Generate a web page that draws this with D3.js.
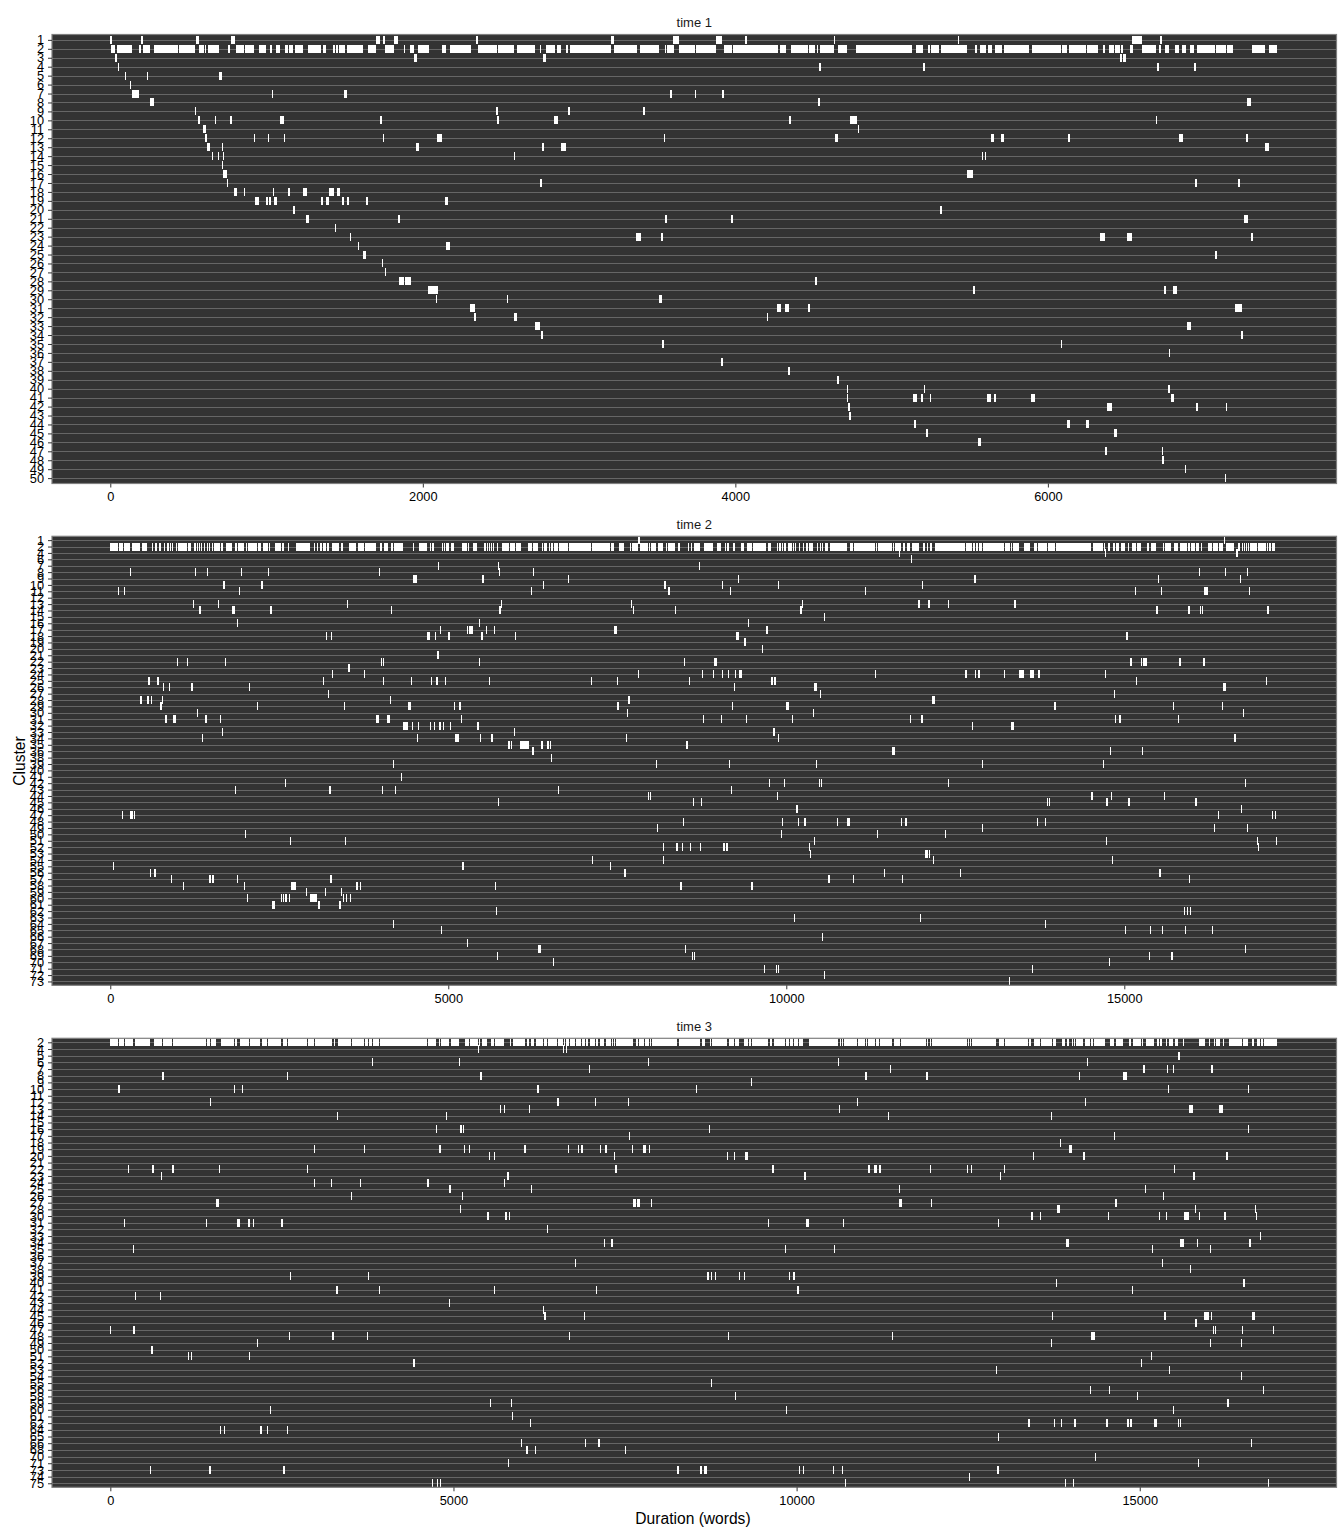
<!DOCTYPE html>
<html>
<head>
<meta charset="utf-8">
<script src="https://cdnjs.cloudflare.com/ajax/libs/d3/7.8.5/d3.min.js"></script>
<style>
  body { margin: 0; background: #fff; }
  text { font-family: "Liberation Sans", Arial, sans-serif; }
</style>
</head>
<body>
<script>
// every chunk is a number (shortest chunk) or [start, length], in words
const time1Clusters = [1,2,3,4,5,6,7,8,9,10,11,12,13,14,15,16,17,18,19,20,21,22,23,24,25,26,27,28,29,30,31,32,33,34,35,36,37,38,39,40,41,42,43,44,45,46,47,48,49,50];
const time2Clusters = [1,2,4,6,7,8,9,10,11,12,13,14,15,16,17,18,19,20,21,22,23,24,25,26,27,28,29,30,31,32,33,34,35,36,38,39,40,41,42,43,44,45,46,47,48,49,50,51,52,53,54,55,56,57,58,59,60,61,62,63,64,65,66,67,68,69,70,71,72,73];
const time3Clusters = [2,4,5,6,7,8,9,10,11,12,13,14,15,16,17,18,19,20,21,22,23,24,25,26,27,28,30,31,32,33,34,35,36,37,38,39,40,41,42,43,44,45,46,47,48,49,50,51,52,53,54,55,56,58,59,60,61,62,64,65,66,68,70,71,73,74,75];

// cluster 2 runs almost the whole text: flat start,end pairs
const time1Cluster2 = [4,30,43,139,184,197,209,254,280,434,440,543,568,600,607,613,626,696,754,767,805,857,863,921,953,998,1023,1036,1062,1087,1119,1138,1145,1171,1183,1235,1267,1350,1363,1382,1427,1440,1446,1459,1465,1504,1517,1619,1651,1702,1760,1818,1882,1888,1920,1946,1972,2042,2125,2151,2174,2308,2353,2475,2481,2584,2603,2718,2750,2756,2788,2846,2859,2884,2916,2929,2942,3204,3223,3371,3390,3511,3550,3556,3563,3607,3639,3742,3748,3876,3927,3978,3985,4273,4286,4324,4356,4465,4471,4510,4522,4529,4542,4631,4657,4714,4772,5131,5156,5201,5233,5246,5252,5304,5316,5483,5534,5547,5566,5604,5617,5643,5662,5707,5720,5880,5899,6084,6091,6123,6135,6244,6251,6321,6353,6366,6391,6423,6430,6462,6468,6481,6526,6545,6603,6692,6711,6724,6750,6775,6814,6839,6858,6884,6910,6935,6955,7070,7076,7140,7146,7185,7306,7390,7415,7466];
const time2Cluster2 = [0,118,133,192,207,296,320,438,468,542,616,635,660,690,719,749,793,808,837,867,882,897,911,926,970,985,1000,1133,1148,1192,1236,1266,1281,1296,1310,1325,1340,1355,1384,1399,1429,1443,1458,1473,1502,1517,1532,1621,1635,1665,1709,1798,1842,1872,1887,1975,2005,2020,2034,2167,2182,2227,2256,2330,2345,2360,2433,2522,2537,2566,2626,2640,2744,2951,3010,3025,3054,3069,3098,3128,3143,3187,3202,3231,3276,3379,3409,3438,3527,3630,3660,3749,3763,3926,3985,4015,4044,4103,4148,4177,4192,4325,4473,4488,4562,4680,4724,4739,4754,4783,4901,4916,4931,4946,4960,5005,5034,5079,5197,5271,5286,5300,5359,5419,5532,5561,5576,5591,5606,5621,5635,5650,5665,5680,5724,5739,5798,5901,5916,5990,6005,6079,6182,6241,6256,6330,6389,6404,6419,6463,6492,6507,6522,6552,6566,6625,6640,6773,6788,7113,7128,7394,7409,7453,7527,7601,7689,7704,7719,7808,7837,7955,7970,7985,8000,8074,8103,8177,8221,8236,8251,8355,8399,8428,8547,8561,8591,8606,8635,8724,8783,8916,8975,9034,9093,9108,9123,9153,9212,9241,9330,9374,9419,9493,9507,9699,9729,9773,9862,9877,9891,9921,9936,9951,9965,9995,10025,10084,10098,10113,10128,10143,10187,10202,10251,10261,10291,10320,10335,10394,10453,10468,10497,10512,10527,10542,10571,10616,10645,10896,10941,10985,11000,11310,11325,11340,11355,11561,11576,11591,11606,11694,11724,11753,11783,11827,11862,11966,12025,12054,12084,12099,12128,12158,12202,12646,12660,12749,12764,12793,12808,12838,12852,12897,12912,13222,13237,13311,13325,13340,13355,13444,13517,13606,13665,13710,13724,13857,13872,13976,13990,14508,14537,14685,14700,14715,14759,14788,14833,14862,14877,14921,14951,15010,15054,15069,15113,15172,15187,15246,15335,15365,15394,15468,15572,15587,15601,15690,15734,15793,15823,15926,15941,15971,15986,16045,16059,16104,16133,16148,16237,16296,16311,16385,16399,16458,16503,16621,16680,16709,16739,16754,16769,16784,16798,16813,16828,16843,16857,16961,16976,17094,17109,17123,17138,17168,17182,17227];
const time3Cluster2 = [0,117,131,204,219,335,364,578,636,753,767,899,913,1394,1409,1452,1467,1540,1613,1802,1816,1846,1889,2020,2035,2181,2210,2283,2297,2487,2516,2574,2589,2866,2880,2968,2982,3230,3259,3274,3317,3507,3521,3696,3711,3754,3769,3813,3827,3915,3929,4614,4629,4745,4789,4803,4818,4935,4964,5080,5168,5226,5241,5357,5372,5387,5418,5491,5549,5593,5607,5738,5826,5840,5870,6044,6074,6103,6132,6175,6205,6307,6321,6365,6380,6511,6525,6598,6613,6627,6642,6686,6700,6773,6788,6860,6875,6919,6933,6962,6992,7064,7079,7108,7137,7195,7225,7298,7312,7327,7341,7356,7370,7618,7662,7691,7705,7778,7793,7851,7866,7880,7895,8259,8288,8594,8623,8667,8740,8755,8769,8988,9017,9090,9104,9163,9235,9294,9308,9337,9352,9585,9614,9643,9673,9833,9847,9891,9906,9949,9964,10022,10037,10095,10183,10605,10634,10649,10663,10678,10692,10882,10896,10999,11013,11027,11042,11144,11159,11203,11217,11392,11421,11509,11523,11889,11903,11918,11947,11962,11976,12486,12501,12515,12530,12545,12559,12909,12953,13025,13040,13375,13390,13419,13463,13550,13564,13725,13739,13783,13871,13914,13943,13972,14016,14031,14045,14060,14074,14176,14206,14278,14293,14322,14337,14497,14570,14628,14657,14759,14847,14876,14905,15022,15036,15051,15094,15211,15255,15284,15298,15328,15386,15400,15430,15488,15517,15561,15634,15648,15867,15954,16012,16027,16085,16100,16114,16173,16216,16231,16304,16493,16508,16581,16639,16668,16712,16756,16770,16799,16814,17003];

const time1Chunks = [
  [1, [0,12],[197,13],[549,19],[773,25],[1702,25],[1747,13],[1818,25],[2340,13],[3204,19],[3601,38],[3876,38],[4062,13],4631,5425,[6539,64],[6718,13]],
  [3, [30,13],[1946,19],[2769,19],[6462,13],[6481,19]],
  [4, 49,[4535,13],[5201,13],[6699,13],[6935,13]],
  [5, 94,235,[696,19]],
  [6, 126],
  [7, [139,45],1036,[1497,19],[3582,13],3742,[3915,13]],
  [8, [254,26],[4529,13],[7274,26]],
  [9, 543,[2468,13],[2929,13],[3409,13]],
  [10, [562,13],671,[767,13],[1087,26],[1728,13],[2475,13],[2840,26],[4343,13],[4734,45],6692],
  [11, [594,19],4785],
  [12, [607,13],921,1010,1113,1747,[2093,32],3546,[4638,19],[5636,19],[5700,19],[6129,13],[6839,26],[7268,13]],
  [13, [619,19],716,[1959,19],[2763,13],[2884,32],[7390,26]],
  [14, 651,690,722,2584,5579,5598],
  [15, 716],
  [16, [722,26],[5482,38]],
  [17, 748,[2750,13],[6942,13],[7217,13]],
  [18, [793,19],857,1042,[1138,13],[1235,26],[1401,32],[1453,19]],
  [19, [927,26],[998,13],[1017,13],[1049,19],[1350,13],[1382,19],[1485,13],[1517,13],[1638,13],[2145,13]],
  [20, [1171,13],[5310,13]],
  [21, [1254,19],[1843,13],[3550,13],[3972,13],[7256,26]],
  [22, 1440],
  [23, 1536,[3364,32],[3524,13],[6334,32],[6507,32],[7301,13]],
  [24, 1587,[2148,26]],
  [25, [1619,19],[7070,13]],
  [26, 1741],
  [27, 1760],
  [28, [1850,32],[1888,38],[4510,13]],
  [29, [2036,58],[5520,13],[6742,13],[6800,26]],
  [30, 2087,2539,[3511,19]],
  [31, [2302,32],[4266,26],[4318,26],[4465,13],[7197,45]],
  [32, [2328,13],[2584,19],4202],
  [33, [2718,32],[6890,26]],
  [34, [2756,13],[7236,13]],
  [35, [3531,13],6086],
  [36, 6776],
  [37, [3908,13]],
  [38, [4337,13]],
  [39, [4650,13]],
  [40, 4714,5208,[6770,13]],
  [41, 4714,[5138,26],[5189,13],5247,[5611,26],[5656,13],[5893,26],[6790,19]],
  [42, [4721,13],[6379,32],[6949,13],7140],
  [43, [4727,13]],
  [44, [5143,13],[6123,19],[6245,19]],
  [45, [5220,13],[6425,19]],
  [46, [5553,19]],
  [47, [6366,13],6731],
  [48, [6731,13]],
  [49, 6878],
  [50, 7134]
];

const time2Chunks = [
  [1, [7808,30],16473],
  [4, 11665,14715,[16650,30]],
  [6, 11848],
  [7, 4842,5739,8709],
  [8, 291,1251,1429,1931,2330,3970,5754,6256,16104,16488,16813],
  [9, [4473,59],[5502,30],6773,9286,[12779,30],15498,16709],
  [10, [1665,30],[2227,30],6404,[8192,30],9049,9877,12010],
  [11, 113,202,1901,6226,[8251,30],9167,11158,15158,15542,[16177,59],16843],
  [13, 1222,1591,3498,5783,7704,10231,[11951,30],[12099,30],12394,[13370,30]],
  [14, [1310,30],[1798,44],[2360,30],4148,[5754,30],7734,8355,[10202,30],[15468,30],[15941,30],16118,16148,[17109,30]],
  [15, 10557],
  [16, 1872,5458,9433],
  [17, 4872,5271,[5300,59],5561,5680,[7453,44],[9699,30]],
  [18, 3187,3261,[4680,44],4798,[4990,30],[5488,30],5990,[9256,44],[15025,30]],
  [19, [9374,30]],
  [20, 9640],
  [21, [4827,30]],
  [22, 985,1133,1695,4000,4029,5458,8487,[8931,44],[15084,30],15246,[15276,59],[15808,30],[16163,30]],
  [23, [3512,30]],
  [24, 3276,3749,7808,8753,8916,9049,9138,9241,[9300,44],11310,[12646,30],12793,[12838,30],13222,[13444,74],[13606,59],[13724,30],14715],
  [25, [557,30],[690,30],3143,4029,4443,4739,[4813,30],4946,5606,7113,7498,8561,[9773,30],[9818,30],15172,17094],
  [26, 778,867,[1192,30],2049,9227,[10409,44],[16458,44]],
  [27, 3217,10497,14847],
  [28, [438,30],[542,30],601,764,4133,[7660,30],[12158,44]],
  [29, [734,30],2167,3453,[4399,44],5079,[5153,30],[7498,30],9197,[9995,44],[13961,30],15719,16443],
  [30, 1281,7645,10394,16754],
  [31, [808,30],[926,44],[1399,30],1621,[3926,44],[4089,44],5182,8768,9034,9404,10084,11833,[11995,30],14862,[14921,30],15793],
  [32, [4325,74],4458,4547,4724,4783,[4857,30],4916,5020,[5419,30],12749,[13325,44]],
  [33, 1650,5975,[9803,30]],
  [34, 1355,4532,[5094,59],5473,[5635,30],7630,9877,[16621,30]],
  [35, [5887,30],5931,[6064,133],[6374,30],[6463,30],6507,[8517,30]],
  [36, [6241,30],[11561,44],14788,15261],
  [38, 6522],
  [39, 4177,8074,9153,10438,12897,14685],
  [41, 4296],
  [42, 2581,9744,9965,10483,10512,12394,16784],
  [43, 1842,[3231,30],4015,4207,6625,9182],
  [44, 7955,7985,9862,[14508,30],14803,15587],
  [45, 5739,8620,8738,13857,13887,[14730,30],[15054,30],[16045,30]],
  [46, [10143,30],16724],
  [47, 172,[291,44],350,16385,17182,17227],
  [48, 8473,9936,10172,[10261,30],10748,[10896,44],11694,[11753,30],13710,13828],
  [49, 8089,12897,16325,16813],
  [50, 1990,9921,11340,12350],
  [51, 2655,3468,10409,14730,16961,17241],
  [52, 8177,[8369,30],8458,8576,8724,[9064,30],[9108,30],10335,16976],
  [53, 10350,[12054,44],12114],
  [54, 7128,8177,12173,14818],
  [55, 39,[5197,30],7394],
  [56, 586,[645,30],[7601,30],11443,12572,[15513,30]],
  [57, 897,[1458,30],[1502,30],1872,[3246,30],[10616,30],10985,11709,15956],
  [58, 1074,1975,[2670,74],[3630,30],3690,5695,[8428,30],[9478,30]],
  [59, 2892,3172,3409],
  [60, 2020,2522,2552,[2581,30],2640,[2951,103],3438,3483,3542],
  [61, [2389,44],[3069,30],[3379,30]],
  [62, 5709,15882,15926,15971],
  [63, 10113,11981],
  [64, 4177,13828],
  [65, 4887,15010,15379,15557,15897,16296],
  [66, 10527],
  [67, 5271],
  [68, [6330,44],8502,16784],
  [69, 5724,8606,8635,15365,[15690,30]],
  [70, 6552,14774],
  [71, 9670,9847,9877,13636],
  [72, 10557],
  [73, 13296]
];

const time3Chunks = [
  [4, 5357,6598,6642],
  [5, [15561,29]],
  [6, 3813,5080,7836,10605,14235],
  [7, 6977,11363,[15051,29],15400,15488,[16041,29]],
  [8, [753,29],2574,[5389,29],[10999,29],[11889,29],14118,[14759,58]],
  [9, 9337],
  [10, [112,29],1802,1919,[6219,29],8536,15415,16581],
  [12, 1452,[6511,29],7064,7545,10882,14206],
  [13, 5680,5738,6103,10620,[15721,58],[16158,58]],
  [14, 3303,4891,11334,13710],
  [16, 4745,[5095,29],5139,8726,16581],
  [17, 7560,14628],
  [18, 13841],
  [19, 2968,3696,[4789,29],5153,5226,[6030,29],6671,6817,[6860,29],7137,[7210,29],7603,[7764,44],7851,[13972,44]],
  [20, 5520,5593,7341,8988,9090,[9250,44],13448,[14176,29],[16260,29]],
  [22, 257,[607,29],[899,29],1583,2866,[7356,29],[9643,29],[11042,29],[11130,44],[11203,29],11947,12486,12545,13025,15503],
  [23, 738,[5782,29],[10110,29],12967,[15779,29]],
  [24, 2968,3215,3638,[4614,29],5738],
  [25, [4935,29],6132,11494,15080],
  [26, 3507,5124,15342],
  [27, [1540,44],[7618,44],[7676,44],7880,[11494,44],11962,[14643,29]],
  [28, 5095,[13798,44],15808,16683],
  [30, [5491,29],[5753,29],5811,[13419,29],13550,14541,15284,15386,[15648,73],15867,[16231,29],16697],
  [31, 199,1394,[1846,44],[2006,29],2079,[2487,29],9585,[10139,44],10678,12938],
  [32, 6365],
  [33, 16756],
  [34, 7195,[7298,29],[13929,44],[15590,58],15838,[16595,29]],
  [35, 330,9833,10546,15182,16027],
  [37, 6773,15328],
  [38, 15736],
  [39, 2618,3754,[8696,29],8755,8813,9163,9235,9891,[9949,29]],
  [40, 13783,[16508,29]],
  [41, [3288,29],3915,5593,7079,[10008,29],14890],
  [42, 359,724],
  [43, 4935],
  [44, 6307],
  [45, [6321,29],6904,13725,[15357,29],[15939,73],16041,[16639,44]],
  [46, [15808,29]],
  [47, 0,[330,29],16071,16100,16493,16945],
  [48, 2603,[3230,29],3740,6686,9002,11392,[14293,58]],
  [49, 2137,13710,16027,16479],
  [50, [593,29]],
  [51, 1132,1175,2020,15167],
  [52, [4410,29],15022],
  [53, 12909,15430],
  [54, 16479],
  [55, 8755],
  [56, 14278,14555,16799],
  [58, 9104,14963],
  [59, 5534,5840,[16275,29]],
  [60, 2326,9847,15488],
  [61, 5855],
  [62, 6117,[13375,29],13754,13856,[14045,29],[14512,29],[14818,29],[14862,29],[15211,44],15561,15590],
  [64, 1598,1656,[2181,29],2283,2574],
  [65, 12938],
  [66, 5986,6919,[7108,29],16624],
  [68, [6059,29],6190,7502],
  [70, 14351],
  [71, 5797,15852],
  [73, 578,[1438,29],[2516,29],[8259,29],[8594,29],[8653,44],10037,10095,10532,10663,[12924,29]],
  [74, 12515],
  [75, 4687,4760,4804,10707,13914,14031,16872]
];

const width = 1344, height = 1536;
const panelLeft = 52, panelRight = 1336.5, panelHeight = 449;
const markHeight = 8;

let svg = d3.select("body").append("svg")
    .attr("width", width)
    .attr("height", height)
    .attr("viewBox", `0 0 ${width} ${height}`)
    .style("display", "block");

function drawPanel(title, top, clusters, chunks, cluster2, xDomain, xTicks, thin) {
    let x = d3.scaleLinear().domain(xDomain).range([panelLeft, panelRight]);
    let y = d3.scalePoint().domain(clusters).range([top, top + panelHeight]).padding(0.6);

    // flatten the rows into {cluster, start, length}
    let marks = [];
    chunks.forEach(function(row) {
        row.slice(1).forEach(function(c) {
            if (typeof c === "number") marks.push({cluster: row[0], start: c, length: thin});
            else marks.push({cluster: row[0], start: c[0], length: c[1]});
        });
    });
    for (let i = 0; i < cluster2.length; i += 2) {
        marks.push({cluster: 2, start: cluster2[i], length: cluster2[i + 1] - cluster2[i]});
    }

    let g = svg.append("g");

    g.append("rect")
        .attr("x", panelLeft)
        .attr("y", top)
        .attr("width", panelRight - panelLeft)
        .attr("height", panelHeight)
        .attr("fill", "#333333");

    g.append("g").selectAll("line")
        .data(clusters)
        .enter().append("line")
        .attr("x1", panelLeft)
        .attr("x2", panelRight)
        .attr("y1", d => Math.round(y(d)) + 0.5)
        .attr("y2", d => Math.round(y(d)) + 0.5)
        .attr("stroke", "#666666")
        .attr("stroke-width", 1)
        .attr("shape-rendering", "crispEdges");

    g.append("g").selectAll("rect")
        .data(marks)
        .enter().append("rect")
        .attr("x", d => Math.round(x(d.start)))
        .attr("y", d => Math.round(y(d.cluster)) - markHeight / 2)
        .attr("width", d => Math.max(1, Math.round(x(d.start + d.length)) - Math.round(x(d.start))))
        .attr("height", markHeight)
        .attr("fill", "#ffffff")
        .attr("shape-rendering", "crispEdges");

    g.append("rect")
        .attr("x", panelLeft)
        .attr("y", top)
        .attr("width", panelRight - panelLeft)
        .attr("height", panelHeight)
        .attr("fill", "none")
        .attr("stroke", "#7f7f7f")
        .attr("stroke-width", 1.2);

    let yAxis = g.append("g")
        .attr("transform", `translate(${panelLeft},0)`)
        .call(d3.axisLeft(y).tickSize(4).tickPadding(4));
    yAxis.select(".domain").remove();
    yAxis.selectAll("line").attr("stroke", "#333333");
    yAxis.selectAll("text").attr("fill", "#000").style("font-size", "12.8px");

    let xAxis = g.append("g")
        .attr("transform", `translate(0,${top + panelHeight})`)
        .call(d3.axisBottom(x).tickValues(xTicks).tickSize(4).tickPadding(4.5).tickFormat(d3.format("d")));
    xAxis.select(".domain").remove();
    xAxis.selectAll("line").attr("stroke", "#333333");
    xAxis.selectAll("text").attr("fill", "#000").style("font-size", "12.8px");

    g.append("text")
        .attr("x", (panelLeft + panelRight) / 2)
        .attr("y", top - 7.4)
        .attr("text-anchor", "middle")
        .attr("fill", "#1a1a1a")
        .style("font-size", "13px")
        .text(title);
}

drawPanel("time 1", 34.5, time1Clusters, time1Chunks, time1Cluster2, [-373, 7847], [0, 2000, 4000, 6000], 6);
drawPanel("time 2", 536.3, time2Clusters, time2Chunks, time2Cluster2, [-862, 18139], [0, 5000, 10000, 15000], 15);
drawPanel("time 3", 1038.3, time3Clusters, time3Chunks, time3Cluster2, [-850, 17867], [0, 5000, 10000, 15000], 15);

svg.append("text")
    .attr("x", 693)
    .attr("y", 1524)
    .attr("text-anchor", "middle")
    .style("font-size", "15.6px")
    .text("Duration (words)");

svg.append("text")
    .attr("transform", "translate(25,761) rotate(-90)")
    .attr("text-anchor", "middle")
    .style("font-size", "15.6px")
    .text("Cluster");
</script>
</body>
</html>
